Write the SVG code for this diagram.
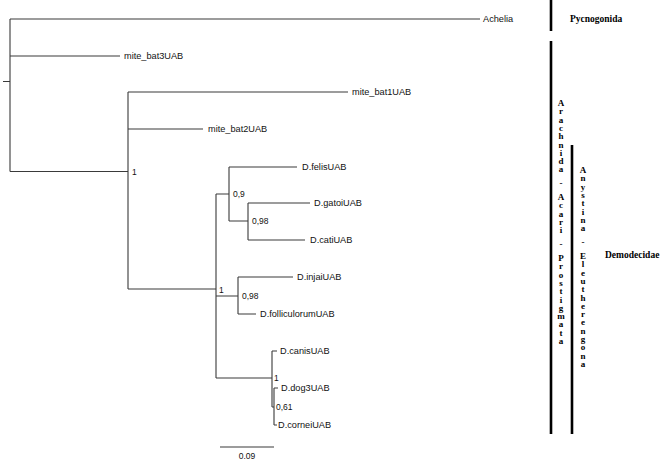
<svg xmlns="http://www.w3.org/2000/svg" width="660" height="460" viewBox="0 0 660 460">
<style>
.br{stroke:#3a3a3a;stroke-width:1.1;fill:none}
.bar{stroke:#000;stroke-width:2.6}
.lb{font-family:"Liberation Sans",Arial,sans-serif;font-size:9.2px;fill:#111}
.sp{font-family:"Liberation Sans",Arial,sans-serif;font-size:8.5px;fill:#111}
.tx{font-family:"Liberation Serif","Times New Roman",serif;font-weight:bold;font-size:9.5px;fill:#000}
.vt{font-family:"Liberation Serif","Times New Roman",serif;font-weight:bold;font-size:9px;fill:#000;text-anchor:middle}
</style>
<rect width="660" height="460" fill="#fff"/>
<g id="connectors">
<path class="br" d="M3,81.5H10 M10,19V171.5 M10,19H480 M10,56H120 M10,171.5H128 M128,92V289 M128,92H348 M128,129H203 M128,289H216 M216,194V378 M216,194H229 M229,167V221 M229,167H297 M229,221H248 M248,203V240 M248,203H310 M248,240H305 M216,296H238 M238,277V314 M238,277H293 M238,314H256 M216,378H272 M272,351V407 M272,351H277 M272,407H274 M274,388V425 M274,388H278 M274,425H277"/>
</g>
<g id="Achelia"><text class="lb" x="483" y="22">Achelia</text></g>
<g id="mite_bat3UAB"><text class="lb" x="124" y="59">mite_bat3UAB</text></g>
<g id="mite_bat1UAB"><text class="lb" x="352" y="95">mite_bat1UAB</text></g>
<g id="mite_bat2UAB"><text class="lb" x="208" y="132">mite_bat2UAB</text></g>
<g id="D.felisUAB"><text class="lb" x="302" y="170">D.felisUAB</text></g>
<g id="D.gatoiUAB"><text class="lb" x="314" y="206">D.gatoiUAB</text></g>
<g id="D.catiUAB"><text class="lb" x="310" y="243">D.catiUAB</text></g>
<g id="D.injaiUAB"><text class="lb" x="297" y="280">D.injaiUAB</text></g>
<g id="D.folliculorumUAB"><text class="lb" x="260" y="317">D.folliculorumUAB</text></g>
<g id="D.canisUAB"><text class="lb" x="280" y="354">D.canisUAB</text></g>
<g id="D.dog3UAB"><text class="lb" x="281" y="391">D.dog3UAB</text></g>
<g id="D.corneiUAB"><text class="lb" x="278" y="428">D.corneiUAB</text></g>
<g id="support">
<text class="sp" x="132" y="175">1</text>
<text class="sp" x="233" y="197">0,9</text>
<text class="sp" x="252" y="224">0,98</text>
<text class="sp" x="219" y="293">1</text>
<text class="sp" x="242" y="299">0,98</text>
<text class="sp" x="274" y="381">1</text>
<text class="sp" x="276" y="410">0,61</text>
</g>
<g id="scale">
<path class="br" d="M220,447H274"/>
<text class="sp" x="247" y="459" text-anchor="middle">0.09</text>
</g>
<g id="Pycnogonida">
<line class="bar" x1="551" y1="0" x2="551" y2="31"/>
<text class="tx" x="570" y="22">Pycnogonida</text>
</g>
<g id="Arachnida">
<line class="bar" x1="551" y1="41" x2="551" y2="434"/>
<text class="vt"><tspan x="561" y="106">A</tspan><tspan x="561" y="114.3">r</tspan><tspan x="561" y="122.6">a</tspan><tspan x="561" y="130.9">c</tspan><tspan x="561" y="139.2">h</tspan><tspan x="561" y="147.5">n</tspan><tspan x="561" y="155.8">i</tspan><tspan x="561" y="164.1">d</tspan><tspan x="561" y="172.4">a</tspan><tspan x="561" y="186">-</tspan><tspan x="561" y="200">A</tspan><tspan x="561" y="208.3">c</tspan><tspan x="561" y="216.6">a</tspan><tspan x="561" y="224.9">r</tspan><tspan x="561" y="233.2">i</tspan><tspan x="561" y="247">-</tspan><tspan x="561" y="261">P</tspan><tspan x="561" y="269.3">r</tspan><tspan x="561" y="277.6">o</tspan><tspan x="561" y="285.9">s</tspan><tspan x="561" y="294.2">t</tspan><tspan x="561" y="302.5">i</tspan><tspan x="561" y="310.8">g</tspan><tspan x="561" y="319.1">m</tspan><tspan x="561" y="327.4">a</tspan><tspan x="561" y="335.7">t</tspan><tspan x="561" y="344">a</tspan></text>
</g>
<g id="Anystina">
<line class="bar" x1="572" y1="145" x2="572" y2="434"/>
<text class="vt"><tspan x="583" y="173">A</tspan><tspan x="583" y="181.3">n</tspan><tspan x="583" y="189.6">y</tspan><tspan x="583" y="197.9">s</tspan><tspan x="583" y="206.2">t</tspan><tspan x="583" y="214.5">i</tspan><tspan x="583" y="222.8">n</tspan><tspan x="583" y="231.1">a</tspan><tspan x="583" y="245">-</tspan><tspan x="583" y="259">E</tspan><tspan x="583" y="267.3">l</tspan><tspan x="583" y="275.6">e</tspan><tspan x="583" y="283.9">u</tspan><tspan x="583" y="292.2">t</tspan><tspan x="583" y="300.5">h</tspan><tspan x="583" y="308.8">e</tspan><tspan x="583" y="317.1">r</tspan><tspan x="583" y="325.4">e</tspan><tspan x="583" y="333.7">n</tspan><tspan x="583" y="342">g</tspan><tspan x="583" y="350.3">o</tspan><tspan x="583" y="358.6">n</tspan><tspan x="583" y="366.9">a</tspan></text>
</g>
<g id="Demodecidae"><text class="tx" x="605" y="258">Demodecidae</text></g>
</svg>
